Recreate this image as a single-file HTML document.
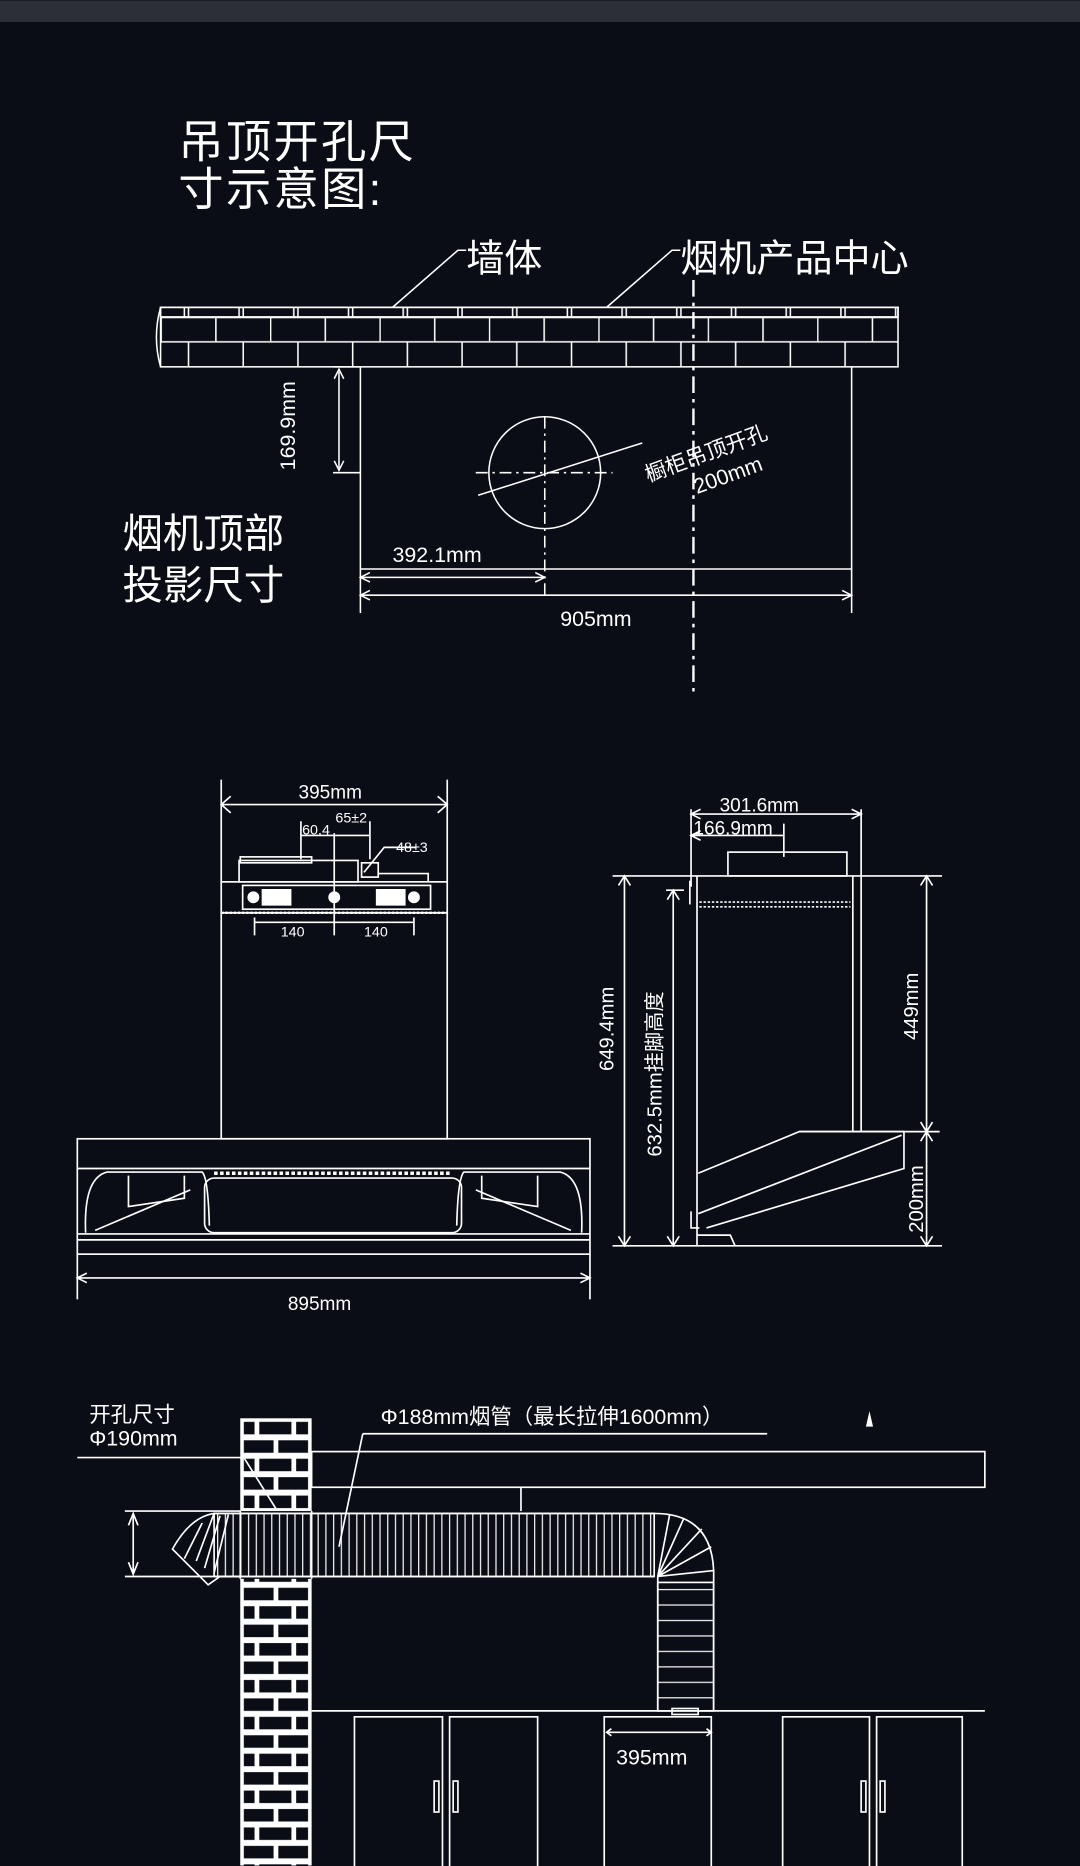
<!DOCTYPE html>
<html><head><meta charset="utf-8"><style>
html,body{margin:0;padding:0;background:#0a0d16;}
svg{display:block}
text{fill:#fff;font-family:"Liberation Sans","Noto Sans CJK SC",sans-serif;}
</style></head><body>
<svg width="1080" height="1866" viewBox="0 0 908 1568" xmlns="http://www.w3.org/2000/svg">
<defs>
<pattern id="wb" x="135" y="266" width="92" height="42" patternUnits="userSpaceOnUse">
<path d="M0 0.5H92M0 21H92M0.5 0V21M46.5 0V21M23.5 21V42M69.5 21V42" stroke="#fff" stroke-width="1.3" fill="none"/>
</pattern>
<pattern id="wt" x="135" y="258" width="46" height="8" patternUnits="userSpaceOnUse">
<path d="M20 0V8" stroke="#fff" stroke-width="1.3"/>
</pattern>
<pattern id="col" x="202" y="1192" width="60" height="31" patternUnits="userSpaceOnUse">
<rect width="60" height="31" fill="#fff"/>
<rect x="3" y="3" width="9" height="10.5" fill="#0a0d16"/>
<rect x="16" y="3" width="27" height="10.5" fill="#0a0d16"/>
<rect x="47" y="3" width="10" height="10.5" fill="#0a0d16"/>
<rect x="3" y="18.5" width="25" height="10.5" fill="#0a0d16"/>
<rect x="32" y="18.5" width="25" height="10.5" fill="#0a0d16"/>
</pattern>
<pattern id="rib" x="180" y="0" width="6.5" height="10" patternUnits="userSpaceOnUse">
<path d="M3 0V10" stroke="#fff" stroke-width="1"/>
</pattern>
<pattern id="ribh" x="0" y="1330" width="10" height="13" patternUnits="userSpaceOnUse">
<path d="M0 6H10" stroke="#fff" stroke-width="1"/>
</pattern>
</defs>
<rect width="908" height="1568" fill="#0a0d16"/>
<rect width="908" height="18" fill="#2c2f36"/>

<!-- Section 1 -->
<text x="150" y="132" font-size="38" letter-spacing="2">吊顶开孔尺</text>
<text x="150" y="172" font-size="38" letter-spacing="2">寸示意图:</text>
<text x="392" y="228" font-size="32">墙体</text>
<text x="572" y="228" font-size="32">烟机产品中心</text>
<g stroke="#fff" stroke-width="1.3" fill="none">
<path d="M330 258L385 210H392"/>
<path d="M510 258L565 210H572"/>
<rect x="135" y="258" width="620" height="50" fill="url(#wb)"/>
<rect x="135" y="258" width="620" height="8" fill="url(#wt)"/>
<path d="M135 258Q128 283 135 308" />
<path d="M303 308V515M716 308V515M303 478H716"/>
<path d="M280 308H303M280 397H303M285 312V393"/>
<path d="M281 318L285 310L289 318M281 387L285 395L289 387"/>
<circle cx="458" cy="397" r="47"/>
<path d="M458 350V500" stroke-dasharray="10 4 2 4"/>
<path d="M400 397H515" stroke-dasharray="10 4 2 4"/>
<path d="M402 416L540 372"/>
<path d="M583 235V582" stroke-width="2" stroke-dasharray="14 5 3 5"/>
<path d="M303 485H458M311 481L303 485L311 489M450 481L458 485L450 489"/>
<path d="M303 500H716M311 496L303 500L311 504M708 496L716 500L708 504"/>
</g>
<text x="0" y="0" font-size="18" transform="translate(248,395) rotate(-90)">169.9mm</text>
<text x="0" y="0" font-size="18" transform="translate(545,405) rotate(-20)">橱柜吊顶开孔</text>
<text x="0" y="0" font-size="18" transform="translate(586,415) rotate(-20)">200mm</text>
<text x="330" y="472" font-size="18">392.1mm</text>
<text x="471" y="526" font-size="18">905mm</text>
<text x="103" y="460" font-size="34">烟机顶部</text>
<text x="103" y="503" font-size="34">投影尺寸</text>

<!-- Front view -->
<g stroke="#fff" stroke-width="1.4" fill="none">
<path d="M186 655V741M376 655V741"/>
<path d="M186 676H376M194 669L186 676L194 683M368 669L376 676L368 683"/>
<path d="M253 690V722M281 700V786M311 690V722M253 702H281M281 702H311"/>
<path d="M306 733L323 712H350"/>
<rect x="201" y="723" width="100" height="18"/>
<rect x="202" y="720" width="60" height="5"/>
<rect x="304" y="725" width="14" height="12"/>
<path d="M318 734H360V741"/>
<rect x="186" y="741" width="190" height="26"/>
<rect x="204" y="744" width="158" height="20"/>
<path d="M186 767H376" stroke-dasharray="2 1.5" stroke-width="2"/>
<rect x="186" y="767" width="190" height="190"/>
<path d="M214 775H281H348M214 771V786M348 771V786"/>
<rect x="65" y="957" width="431" height="97"/>
<path d="M65 982H496M65 1037H496M65 1042H496"/>
<path d="M72 1036Q70 990 90 985H170Q175 990 176 1030"/>
<path d="M489 1036Q491 990 471 985H390Q385 990 384 1030"/>
<path d="M108 988V1014L155 1007V988M452 988V1014L405 1007V988"/>
<path d="M80 1034L160 1000M480 1034L400 1000"/>
<rect x="172" y="990" width="216" height="46" rx="8"/>
<path d="M180 986H380" stroke-dasharray="3 2" stroke-width="3"/>
<path d="M65 1074H496M73 1070L65 1074L73 1078M488 1070L496 1074L488 1078M65 1054V1092M496 1054V1092"/>
</g>
<g fill="#fff">
<circle cx="213" cy="754" r="5"/><circle cx="281" cy="754" r="5"/><circle cx="348" cy="754" r="5"/>
<rect x="220" y="747" width="25" height="14"/><rect x="316" y="747" width="25" height="14"/>
</g>
<text x="251" y="671" font-size="16">395mm</text>
<text x="254" y="701" font-size="12">60.4</text>
<text x="282" y="691" font-size="12">65±2</text>
<text x="333" y="716" font-size="12">48±3</text>
<text x="236" y="787" font-size="12">140</text>
<text x="306" y="787" font-size="12">140</text>
<text x="242" y="1101" font-size="16">895mm</text>

<!-- Side view -->
<g stroke="#fff" stroke-width="1.4" fill="none">
<path d="M581 680V745M724 680V736"/>
<path d="M581 684H724M589 680L581 684L589 688M716 680L724 684L716 688"/>
<path d="M581 702H659M589 698L581 702L589 706M659 692V720"/>
<rect x="612" y="716" width="100" height="20"/>
<path d="M515 736H792"/>
<path d="M586 736V1047M717 736V951M724 736V951"/>
<path d="M580 740V760"/>
<path d="M588 758H715M588 762H715" stroke-dasharray="2 1.5"/>
<path d="M525 736V1047M520 744L525 736L530 744M520 1039L525 1047L530 1039"/>
<path d="M566 748V1047M561 756L566 748L571 756M561 1039L566 1047L571 1039M560 748H575"/>
<path d="M779 736V1047M774 744L779 736L784 744M774 943L779 951L784 943M774 959L779 951L784 959M774 1039L779 1047L784 1039"/>
<path d="M515 1047H792M672 951H790"/>
<path d="M587 986L672 951H760V982L594 1032"/>
<path d="M587 1020L758 954"/>
<path d="M581 1018V1032H588"/>
<path d="M586 1038H614L618 1047"/>
</g>
<text x="605" y="682" font-size="16">301.6mm</text>
<text x="583" y="701" font-size="16">166.9mm</text>
<text x="0" y="0" font-size="17" transform="translate(516,900) rotate(-90)">649.4mm</text>
<text x="0" y="0" font-size="17" transform="translate(556,972) rotate(-90)">632.5mm挂脚高度</text>
<text x="0" y="0" font-size="17" transform="translate(772,874) rotate(-90)">449mm</text>
<text x="0" y="0" font-size="17" transform="translate(776,1036) rotate(-90)">200mm</text>

<!-- Section 3 -->
<text x="75" y="1195" font-size="18">开孔尺寸</text>
<text x="75" y="1215" font-size="18">Φ190mm</text>
<text x="320" y="1197" font-size="18">Φ188mm烟管（最长拉伸1600mm）</text>
<path d="M728 1199L731 1186L734 1199Z" fill="#fff"/>
<rect x="202" y="1192" width="60" height="376" fill="url(#col)"/>
<g stroke="#fff" stroke-width="1.4" fill="none">
<rect x="262" y="1220" width="566" height="30"/>
<path d="M438 1250V1272"/>
<rect x="180" y="1270" width="370" height="57" fill="#0a0d16" stroke="none"/>
<rect x="180" y="1272" width="370" height="53" fill="url(#rib)"/>
<path d="M180 1272H550M180 1325H550M202 1270V1327M262 1270V1327"/>
<path d="M550 1272Q598 1272 600 1320V1438M553 1325V1438"/>
<rect x="553" y="1330" width="47" height="108" fill="url(#ribh)"/>
<path d="M553 1325L600 1320M553 1325L598 1300M553 1325L590 1285M553 1325L575 1276M553 1325L563 1273"/>
<path d="M180 1272Q160 1275 145 1302L175 1332L185 1325H202"/>
<path d="M180 1272L165 1312M185 1274L172 1318M192 1273L180 1322M170 1280L155 1310"/>
<path d="M65 1225H205L232 1268"/>
<path d="M305 1205H645M305 1205L285 1300"/>
<path d="M105 1270H202M105 1325H202M112 1274V1321M108 1282L112 1272L116 1282M108 1313L112 1323L116 1313"/>
<path d="M262 1438H828"/>
<rect x="298" y="1443" width="74" height="130"/>
<rect x="378" y="1443" width="74" height="130"/>
<rect x="508" y="1443" width="90" height="130"/>
<rect x="658" y="1443" width="73" height="130"/>
<rect x="737" y="1443" width="72" height="130"/>
<rect x="365" y="1497" width="4" height="26"/><rect x="381" y="1497" width="4" height="26"/>
<rect x="724" y="1497" width="4" height="26"/><rect x="740" y="1497" width="4" height="26"/>
<path d="M510 1456H598M514 1453L510 1456L514 1459M594 1453L598 1456L594 1459"/>
<rect x="565" y="1436" width="22" height="5"/>
</g>
<text x="518" y="1483" font-size="18">395mm</text>
</svg>
</body></html>
